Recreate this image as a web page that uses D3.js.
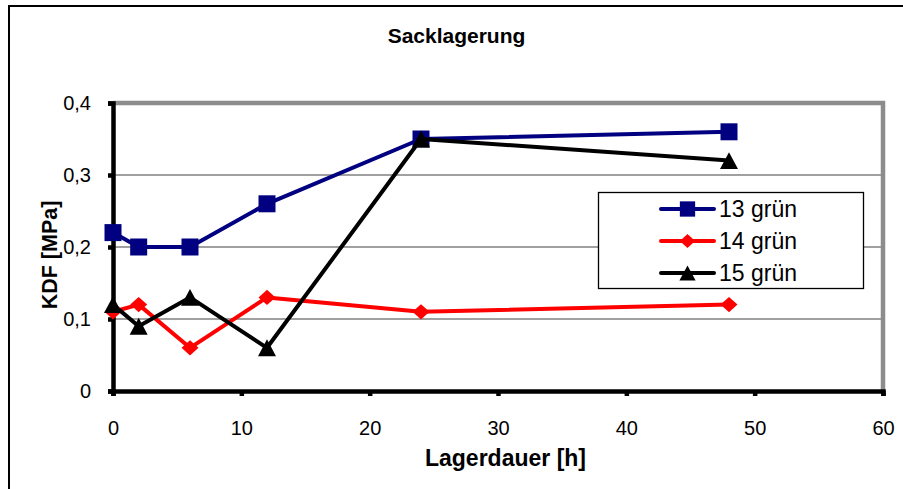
<!DOCTYPE html>
<html><head><meta charset="utf-8">
<script src="https://cdn.jsdelivr.net/npm/d3@7"></script>
<style>body{margin:0;background:#fff}svg{display:block;font-family:Arial,"Liberation Sans",sans-serif}</style>
</head><body>
<svg id="c" width="903" height="489"></svg>
<script>
const hours = [0, 2, 6, 12, 24, 48];
const s13 = [0.22, 0.20, 0.20, 0.26, 0.35, 0.36];
const s14 = [0.11, 0.12, 0.06, 0.13, 0.11, 0.12];
const s15 = [0.12, 0.09, 0.13, 0.06, 0.35, 0.32];
const seriesNames = ["13 grün", "14 grün", "15 grün"];
const xTicks = [0, 10, 20, 30, 40, 50, 60];
const yTicks = [0, 0.1, 0.2, 0.3, 0.4];
const title = "Sacklagerung";
const xTitle = "Lagerdauer [h]";
const yTitle = "KDF [MPa]";

const svg = d3.select("#c");
const L = 113, R = 883, T = 103, B = 391;
const x = d3.scaleLinear().domain([0, 60]).range([L, R]);
const y = d3.scaleLinear().domain([0, 0.4]).range([B, T]);
const fmt = d => String(d).replace(".", ",");
const FF = "Arial, 'Liberation Sans', sans-serif";

// custom symbols
const sqSym = {draw(ctx, s) { const h = s / 2; ctx.rect(-h, -h, s, s); }};
const diaSym = {draw(ctx, s) { const w = s / 2, h = s * 0.45; ctx.moveTo(0, -h); ctx.lineTo(w, 0); ctx.lineTo(0, h); ctx.lineTo(-w, 0); ctx.closePath(); }};
const triSym = {draw(ctx, s) { const w = s / 2, h = s * 0.47; ctx.moveTo(0, -h); ctx.lineTo(w, h); ctx.lineTo(-w, h); ctx.closePath(); }};

// outer frame (right and bottom edges fall outside the picture)
svg.append("rect").attr("x", 9).attr("y", 6).attr("width", 1000).attr("height", 600)
  .attr("fill", "#fff").attr("stroke", "#000").attr("stroke-width", 2);

// gridlines
svg.append("g").selectAll("line").data(yTicks.filter(d => d > 0 && d < 0.4)).join("line")
  .attr("x1", L).attr("x2", R).attr("y1", d => y(d)).attr("y2", d => y(d))
  .attr("stroke", "#808080").attr("stroke-width", 1.5);
// plot area top/right border (gray)
svg.append("path").attr("d", `M${L},${T}H${R}V${B}`).attr("fill", "none")
  .attr("stroke", "#8c8c8c").attr("stroke-width", 4.5);

// axes
const yAxis = d3.axisLeft(y).tickValues(yTicks).tickFormat(fmt).tickSize(5).tickPadding(17);
const gy = svg.append("g").attr("transform", `translate(${L},0)`).call(yAxis);
const xAxis = d3.axisBottom(x).tickValues(xTicks).tickSize(5).tickPadding(25);
const gx = svg.append("g").attr("transform", `translate(0,${B})`).call(xAxis);
[gy, gx].forEach(g => {
  g.select(".domain").attr("stroke", "#000").attr("stroke-width", 4.5);
  g.selectAll(".tick line").attr("stroke", "#000").attr("stroke-width", 4.5);
  g.selectAll("text").attr("font-size", 20).attr("fill", "#000").attr("font-family", FF);
});

// titles
svg.append("text").attr("x", 456.5).attr("y", 42.5).attr("text-anchor", "middle")
  .attr("font-weight", "bold").attr("font-size", 21).text(title);
svg.append("text").attr("x", 505.5).attr("y", 466).attr("text-anchor", "middle")
  .attr("font-weight", "bold").attr("font-size", 23).text(xTitle);
svg.append("text").attr("transform", "translate(57,255) rotate(-90)").attr("text-anchor", "middle")
  .attr("font-weight", "bold").attr("font-size", 21.5).text(yTitle);

const series = [
  {name: seriesNames[0], vals: s13, color: "#000080", sym: sqSym, size: 17},
  {name: seriesNames[1], vals: s14, color: "#ff0000", sym: diaSym, size: 17},
  {name: seriesNames[2], vals: s15, color: "#000000", sym: triSym, size: 18}
];
const line = d3.line().x(d => x(d[0])).y(d => y(d[1]));
series.forEach(s => {
  const pts = hours.map((h, i) => [h, s.vals[i]]);
  svg.append("path").datum(pts).attr("d", line).attr("fill", "none")
    .attr("stroke", s.color).attr("stroke-width", 4).attr("stroke-linejoin", "round");
  svg.append("g").selectAll("path").data(pts).join("path")
    .attr("transform", d => `translate(${x(d[0])},${y(d[1])})`)
    .attr("d", d3.symbol(s.sym, s.size)).attr("fill", s.color);
});

// legend
const lg = svg.append("g");
lg.append("rect").attr("x", 598.5).attr("y", 192.5).attr("width", 265).attr("height", 96)
  .attr("fill", "#fff").attr("stroke", "#000").attr("stroke-width", 1.3);
series.forEach((s, i) => {
  const cy = 209 + i * 32;
  lg.append("line").attr("x1", 661).attr("x2", 714).attr("y1", cy).attr("y2", cy)
    .attr("stroke", s.color).attr("stroke-width", 4).attr("stroke-linecap", "round");
  lg.append("path").attr("transform", `translate(687.5,${cy})`)
    .attr("d", d3.symbol(s.sym, s.size * 0.9)).attr("fill", s.color);
  lg.append("text").attr("x", 719).attr("y", cy + 8).attr("font-size", 23).text(s.name);
});
</script>
</body></html>
